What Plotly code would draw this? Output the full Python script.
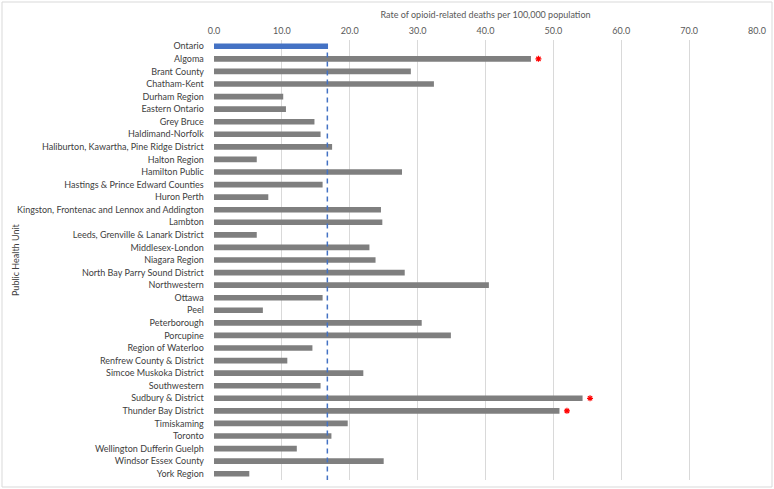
import plotly.graph_objects as go

units = ["Ontario", "Algoma", "Brant County", "Chatham-Kent", "Durham Region", "Eastern Ontario",
         "Grey Bruce", "Haldimand-Norfolk", "Haliburton, Kawartha, Pine Ridge District",
         "Halton Region", "Hamilton Public", "Hastings & Prince Edward Counties", "Huron Perth",
         "Kingston, Frontenac and Lennox and Addington", "Lambton",
         "Leeds, Grenville & Lanark District", "Middlesex-London", "Niagara Region",
         "North Bay Parry Sound District", "Northwestern", "Ottawa", "Peel", "Peterborough",
         "Porcupine", "Region of Waterloo", "Renfrew County & District",
         "Simcoe Muskoka District", "Southwestern", "Sudbury & District",
         "Thunder Bay District", "Timiskaming", "Toronto", "Wellington Dufferin Guelph",
         "Windsor Essex County", "York Region"]
rates = [16.8, 46.7, 29.0, 32.4, 10.2, 10.6, 14.8, 15.7, 17.4, 6.3, 27.7, 16.0, 8.0, 24.6,
         24.8, 6.3, 22.9, 23.8, 28.1, 40.5, 16.0, 7.2, 30.6, 34.9, 14.5, 10.8, 22.0, 15.7,
         54.3, 50.9, 19.7, 17.3, 12.2, 25.0, 5.2]
flagged = ["Algoma", "Sudbury & District", "Thunder Bay District"]
ontario_rate = 16.7
x_ticks = [0, 10, 20, 30, 40, 50, 60, 70, 80]

colors = ["#4472C4" if u == "Ontario" else "#7F7F7F" for u in units]

fig = go.Figure()
fig.add_trace(go.Bar(x=rates, y=units, orientation="h", marker=dict(color=colors, line=dict(width=0)),
                     width=0.45, showlegend=False))
fx = [rates[units.index(u)] + 1.1 for u in flagged]
fig.add_trace(go.Scatter(x=fx, y=flagged, mode="markers",
                         marker=dict(symbol="asterisk-open", size=5, color="#FF0000",
                                     line=dict(color="#FF0000", width=1.2)),
                         showlegend=False))
fig.add_shape(type="line", x0=ontario_rate, x1=ontario_rate, xref="x", y0=0.5, y1=34.8, yref="y",
              line=dict(color="#4472C4", width=1.5, dash="5px,4px"))
fig.add_shape(type="rect", xref="paper", yref="paper", x0=-212/543, x1=1 + 15/543,
              y0=-7/440, y1=1 + 38/440, line=dict(color="#D9D9D9", width=1), layer="below")
fig.add_annotation(text="Public Health Unit", xref="paper", yref="paper", x=-199/543, y=0.5,
                   textangle=-90, showarrow=False, xanchor="center", yanchor="middle",
                   font=dict(size=9, color="#404040"))

fig.update_layout(
    width=774, height=489, margin=dict(l=214, r=17, t=40, b=9),
    plot_bgcolor="white", paper_bgcolor="white",
    font=dict(family="Lato", size=9, color="#404040"),
    xaxis=dict(side="top", range=[0, 80], tickvals=x_ticks, tickformat=".1f",
               showgrid=True, gridcolor="#D9D9D9", gridwidth=1, zeroline=False,
               ticks="", tickfont=dict(size=9, color="#595959"), automargin=False,
               ticklabelstandoff=3,
               title=dict(text="Rate of opioid-related deaths per 100,000 population",
                          font=dict(size=9, color="#595959"), standoff=5)),
    yaxis=dict(range=[len(units) - 0.5, -0.5], autorange=False, categoryorder="array",
               categoryarray=units,
               showgrid=False, zeroline=False, ticks="", ticksuffix="    ", automargin=False,
               tickfont=dict(size=9, color="#404040")),
)
fig.write_html("out.html")
